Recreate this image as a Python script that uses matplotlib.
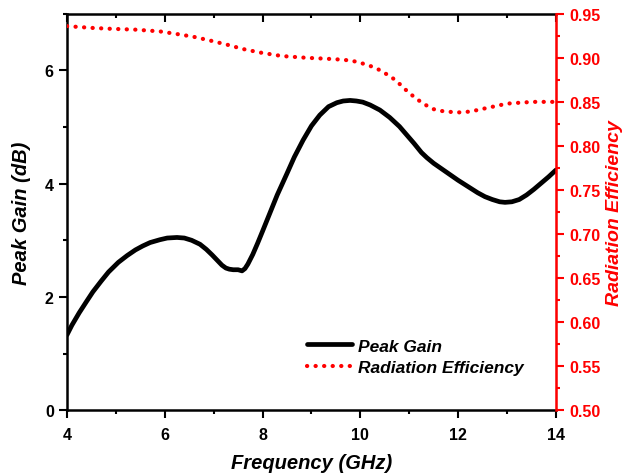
import matplotlib
matplotlib.use('Agg')
import matplotlib.pyplot as plt
from matplotlib.ticker import MultipleLocator

plt.rcParams['font.family'] = ['Liberation Sans', 'DejaVu Sans']
plt.rcParams['font.weight'] = 'bold'

# Peak gain (dB) vs frequency (GHz)
freq_gain = [4.0, 4.1, 4.25, 4.4, 4.53, 4.7, 4.85, 5.05, 5.23, 5.4, 5.55, 5.7,
             5.9, 6.05, 6.25, 6.4, 6.55, 6.72, 6.85, 6.97, 7.07, 7.17, 7.25,
             7.32, 7.4, 7.5, 7.58, 7.64, 7.7, 7.8, 7.9, 8.0, 8.15, 8.3, 8.5,
             8.65, 8.83, 9.0, 9.17, 9.35, 9.52, 9.65, 9.79, 9.92, 10.05, 10.2,
             10.4, 10.6, 10.8, 10.95, 11.1, 11.25, 11.36, 11.5, 11.7, 11.85,
             12.0, 12.2, 12.4, 12.55, 12.7, 12.85, 12.96, 13.1, 13.25, 13.4,
             13.55, 13.7, 13.85, 14.0]
peak_gain = [1.33, 1.5, 1.72, 1.92, 2.09, 2.28, 2.44, 2.61, 2.73, 2.83, 2.9,
             2.96, 3.01, 3.04, 3.05, 3.04, 3.0, 2.93, 2.84, 2.74, 2.65, 2.56,
             2.51, 2.49, 2.48, 2.48, 2.46, 2.5, 2.58, 2.75, 2.95, 3.16, 3.48,
             3.8, 4.18, 4.47, 4.77, 5.02, 5.21, 5.36, 5.43, 5.46, 5.47, 5.46,
             5.44, 5.39, 5.3, 5.17, 5.01, 4.86, 4.71, 4.55, 4.46, 4.36, 4.24,
             4.15, 4.06, 3.95, 3.84, 3.77, 3.72, 3.68, 3.67, 3.68, 3.72, 3.8,
             3.9, 4.01, 4.12, 4.24]

# Radiation efficiency vs frequency (GHz)
freq_eff = [4.0, 4.5, 4.88, 5.4, 5.9, 6.25, 6.58, 6.9, 7.27, 7.6, 7.95, 8.4,
            8.91, 9.3, 9.6, 9.79, 9.97, 10.13, 10.3, 10.46, 10.64, 10.81, 10.98,
            11.16, 11.32, 11.48, 11.62, 11.75, 12.0, 12.25, 12.5, 12.75, 13.0,
            13.25, 13.53, 13.75, 14.0]
rad_eff = [0.936, 0.934, 0.933, 0.932, 0.930, 0.927, 0.924, 0.920, 0.915, 0.910,
           0.906, 0.902, 0.900, 0.899, 0.898, 0.897, 0.895, 0.892, 0.889, 0.884,
           0.878, 0.870, 0.861, 0.853, 0.847, 0.842, 0.840, 0.839, 0.838, 0.839,
           0.842, 0.845, 0.848, 0.849, 0.850, 0.850, 0.850]

fig = plt.figure(figsize=(6.26, 4.77), dpi=100)
ax = fig.add_axes([0.107, 0.138, 0.781, 0.831])
ax2 = ax.twinx()

l1, = ax.plot(freq_gain, peak_gain, color='black', lw=3.4, label='Peak Gain',
              solid_capstyle='round', solid_joinstyle='round', zorder=3)
l2, = ax2.plot(freq_eff, rad_eff, color='red', lw=3.0, linestyle=(0, (0.05, 2.0)),
               dash_capstyle='round', label='Radiation Efficiency')

ax.set_xlim(4, 14)
ax.set_ylim(0, 7)
ax2.set_ylim(0.5, 0.95)

ax.xaxis.set_major_locator(MultipleLocator(2))
ax.xaxis.set_minor_locator(MultipleLocator(1))
ax.yaxis.set_major_locator(MultipleLocator(2))
ax.yaxis.set_minor_locator(MultipleLocator(1))
ax2.yaxis.set_major_locator(MultipleLocator(0.05))
ax2.yaxis.set_minor_locator(MultipleLocator(0.025))
ax2.yaxis.set_major_formatter(plt.FormatStrFormatter('%.2f'))

ax.tick_params(axis='x', which='both', top=True, labelsize=11.5, width=1.5, pad=6)
ax.tick_params(axis='x', which='major', length=6)
ax.tick_params(axis='x', which='minor', length=3)
ax.tick_params(axis='y', which='major', length=6, width=1.5, labelsize=11.5)
ax.tick_params(axis='y', which='minor', length=3, width=1.5)
ax2.tick_params(axis='y', which='major', length=6, width=1.5, labelsize=11.5,
                colors='red')
ax2.tick_params(axis='y', which='minor', length=3, width=1.5, colors='red')

# top ticks point inward like the Origin default
for t in ax.xaxis.get_major_ticks() + ax.xaxis.get_minor_ticks():
    t.tick2line.set_marker(3)

for s in ['left', 'bottom', 'top']:
    ax.spines[s].set_linewidth(1.8)
ax2.spines['right'].set_color('red')
ax2.spines['right'].set_linewidth(1.8)
for s in ['left', 'bottom', 'top']:
    ax2.spines[s].set_visible(False)

ax.set_xlabel('Frequency (GHz)', fontsize=14.5, fontweight='bold', style='italic',
              labelpad=8)
ax.set_ylabel('Peak Gain (dB)', fontsize=14.5, fontweight='bold', style='italic',
              labelpad=10)
ax2.set_ylabel('Radiation Efficiency', fontsize=14, fontweight='bold',
               style='italic', color='red', labelpad=4)

leg = ax.legend(handles=[l1, l2], loc='lower right', bbox_to_anchor=(0.965, 0.05),
                frameon=False, handlelength=2.6, handletextpad=0.3,
                labelspacing=0.35, prop={'weight': 'bold', 'style': 'italic',
                                         'size': 12.5})

fig.savefig('out.png', dpi=100)
